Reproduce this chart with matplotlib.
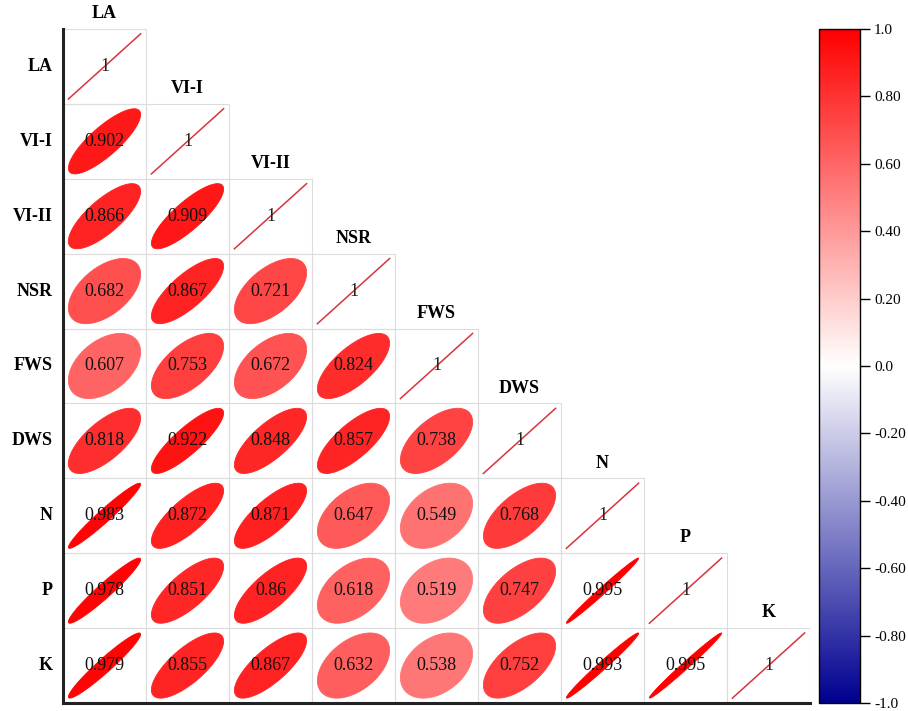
import numpy as np
import matplotlib
matplotlib.use("Agg")
import matplotlib.pyplot as plt
from matplotlib.patches import Polygon, Rectangle
from matplotlib.colors import LinearSegmentedColormap, Normalize
from matplotlib.cm import ScalarMappable

plt.rcParams['font.family'] = ['Liberation Serif', 'DejaVu Serif']

labels = ["LA", "VI-I", "VI-II", "NSR", "FWS", "DWS", "N", "P", "K"]
row_VI_I = [0.902]
row_VI_II = [0.866, 0.909]
row_NSR = [0.682, 0.867, 0.721]
row_FWS = [0.607, 0.753, 0.672, 0.824]
row_DWS = [0.818, 0.922, 0.848, 0.857, 0.738]
row_N = [0.983, 0.872, 0.871, 0.647, 0.549, 0.768]
row_P = [0.978, 0.851, 0.86, 0.618, 0.519, 0.747, 0.995]
row_K = [0.979, 0.855, 0.867, 0.632, 0.538, 0.752, 0.993, 0.995]
cbar_ticks = [-1.0, -0.8, -0.6, -0.4, -0.2, 0.0, 0.2, 0.4, 0.6, 0.8, 1.0]
cbar_ticklabels = ["-1.0", "-0.80", "-0.60", "-0.40", "-0.20", "0.0",
                   "0.20", "0.40", "0.60", "0.80", "1.0"]

rows = [[], row_VI_I, row_VI_II, row_NSR, row_FWS, row_DWS, row_N, row_P, row_K]
n = len(labels)

cmap = LinearSegmentedColormap.from_list("bwr2", ["#000090", "#ffffff", "#ff0000"])
norm = Normalize(-1, 1)

W, H = 908, 711
fig = plt.figure(figsize=(W / 100, H / 100), dpi=100)
x0, x1, ytop, ybot = 63, 810, 29, 703
ax = fig.add_axes([x0 / W, (H - ybot) / H, (x1 - x0) / W, (ybot - ytop) / H])
ax.set_xlim(0, n)
ax.set_ylim(n, 0)
ax.set_xticks([])
ax.set_yticks([])
for s in ["top", "right"]:
    ax.spines[s].set_visible(False)
for s in ["left", "bottom"]:
    ax.spines[s].set_linewidth(2.2)
    ax.spines[s].set_color("#222222")

scale = 0.87
t = np.linspace(0, 2 * np.pi, 240)

def ellipse_pts(r, cx, cy):
    q = np.sqrt(max(1 - abs(r), 0))
    A = 0.5 * scale / np.sqrt((1 + q * q) / 2)
    B = q * A
    u = A * np.cos(t)
    v = B * np.sin(t)
    ex = (u - v) / np.sqrt(2)
    ey = (u + v) / np.sqrt(2) * np.sign(r if r != 0 else 1)
    return np.column_stack([cx + ex, cy - ey])

for i in range(n):
    cy = i + 0.5
    for j in range(i + 1):
        cx = j + 0.5
        ax.add_patch(Rectangle((j, i), 1, 1, fill=False, ec="#dcdcdc", lw=0.8, zorder=1))
        if j == i:
            ax.plot([cx - 0.435, cx + 0.435], [cy + 0.435, cy - 0.435], color="#d8343e", lw=1.1, zorder=2)
            ax.text(cx, cy, "1", ha="center", va="center", fontsize=13, color="#222222", zorder=3)
        else:
            r = rows[i][j]
            col = cmap(norm(r))
            ax.add_patch(Polygon(ellipse_pts(r, cx, cy), closed=True, fc=col, ec=col, lw=0.6, zorder=2))
            ax.text(cx, cy, f"{r:g}", ha="center", va="center", fontsize=13, color="#111111", zorder=3)
    ax.text(-0.13, cy, labels[i], ha="right", va="center", fontsize=13, fontweight="bold",
            clip_on=False)
    ax.text(i + 0.5, i - 0.09, labels[i], ha="center", va="bottom", fontsize=13, fontweight="bold",
            clip_on=False)

cax = fig.add_axes([819 / W, (H - ybot) / H, 41 / W, (ybot - ytop) / H])
sm = ScalarMappable(norm=norm, cmap=cmap)
cb = fig.colorbar(sm, cax=cax, ticks=cbar_ticks)
cb.ax.set_yticklabels(cbar_ticklabels)
cb.ax.tick_params(length=7, width=1, labelsize=11, pad=3)
cb.outline.set_linewidth(1)

fig.savefig("out.png", dpi=100)
